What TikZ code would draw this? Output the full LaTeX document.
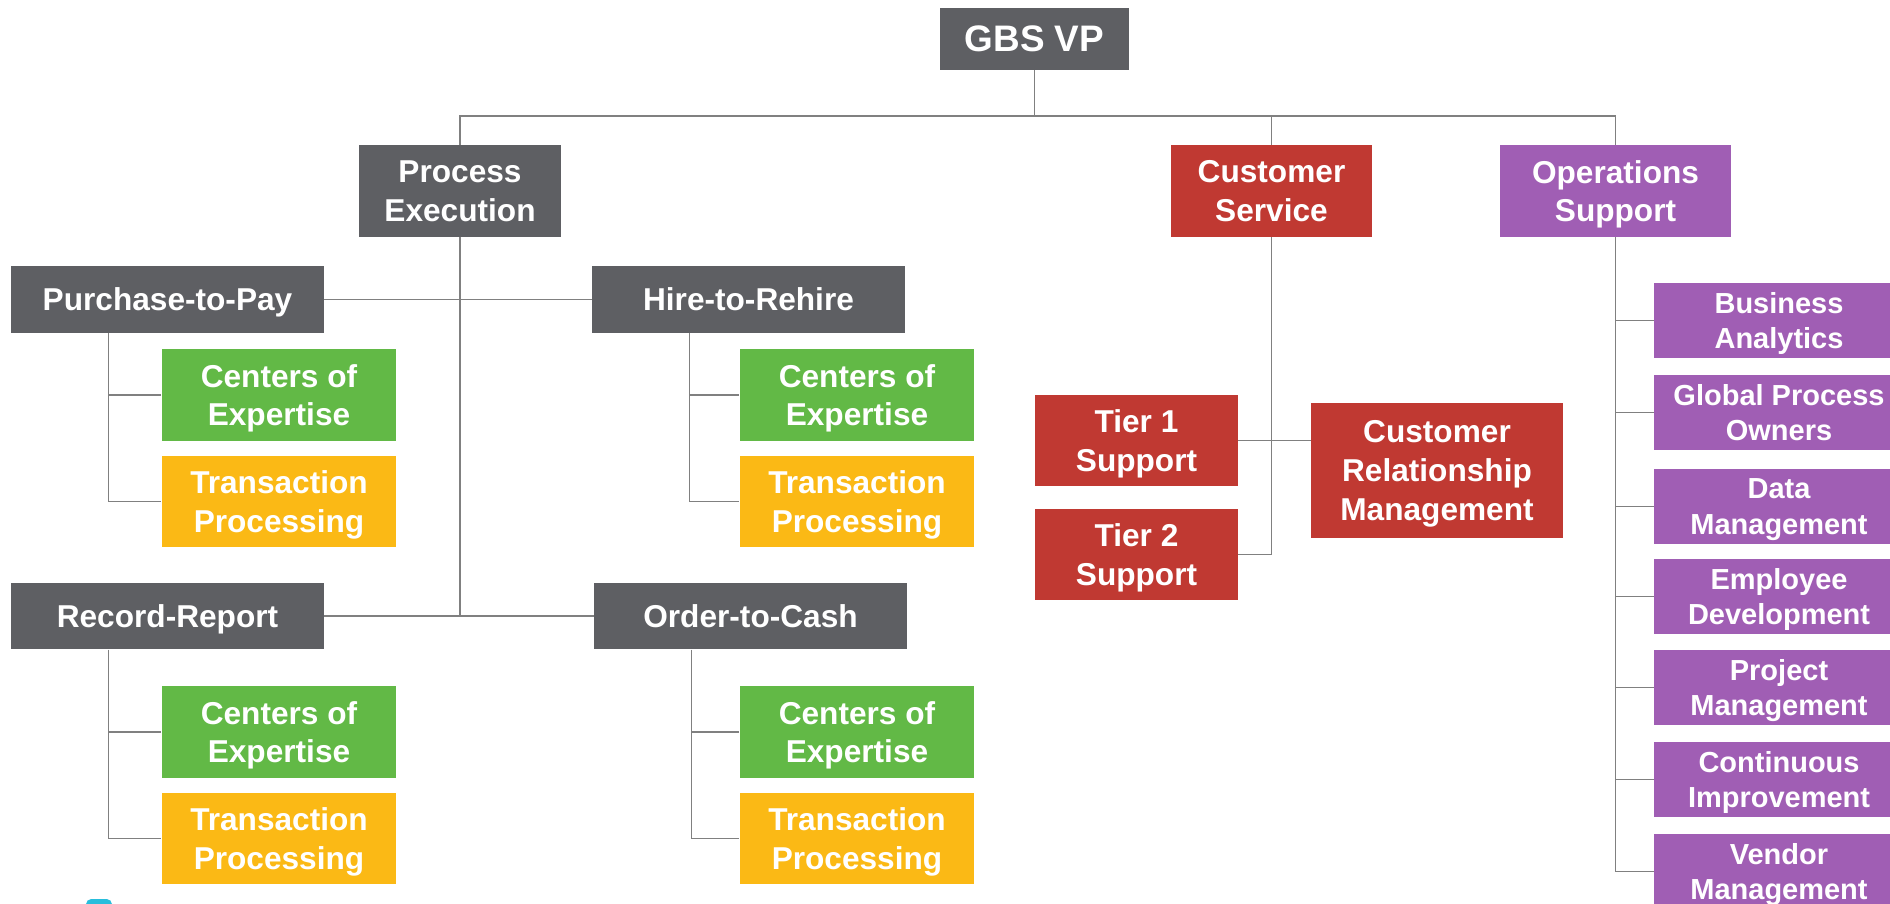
\documentclass[tikz,border=0pt]{standalone}
\usepackage{fontspec}
\setmainfont{Liberation Sans}
\usetikzlibrary{calc}
\definecolor{slate}{RGB}{94, 95, 99}
\definecolor{brick}{RGB}{192, 57, 50}
\definecolor{leaf}{RGB}{98, 185, 70}
\definecolor{amber}{RGB}{251, 185, 21}
\definecolor{orchid}{RGB}{160, 94, 180}
\definecolor{wire}{RGB}{128, 128, 128}
\definecolor{skyblue}{RGB}{40, 190, 220}

\tikzset{
    box/.style   = {rectangle, inner sep=0pt, text=white, align=center, text depth=0pt,
                    font=\bfseries\fontsize{18}{22}\selectfont},
    proc/.style  = {box, fill=slate,  minimum width=6.26cm, minimum height=1.33cm},
    coe/.style   = {box, fill=leaf,   minimum width=4.70cm, minimum height=1.84cm},
    trans/.style = {box, fill=amber,  minimum width=4.70cm, minimum height=1.83cm},
    tier/.style  = {box, fill=brick,  minimum width=4.06cm, minimum height=1.82cm},
    opsbox/.style= {box, fill=orchid, minimum width=5.00cm, minimum height=1.50cm,
                    font=\bfseries\fontsize{16.5}{20}\selectfont},
    link/.style  = {draw=wire, line width=0.9pt},
}

\begin{document}
\begin{tikzpicture}[x=0.02cm, y=-0.02cm]
            \useasboundingbox (0,0) rectangle (1890,903);
            % top
            \node[box, fill=slate, minimum width=3.78cm, minimum height=1.24cm,
                  font=\bfseries\fontsize{21}{25}\selectfont]            (vp)  at (1034.5,  39.0) {GBS VP};
            \node[box, fill=slate,  minimum width=4.04cm, minimum height=1.84cm] (pe)  at ( 460.0, 191.0) {Process\\Execution};
            \node[box, fill=brick,  minimum width=4.04cm, minimum height=1.84cm] (cs)  at (1271.5, 191.0) {Customer\\Service};
            \node[box, fill=orchid, minimum width=4.62cm, minimum height=1.84cm] (os)  at (1615.5, 191.0) {Operations\\Support};
            % process execution
            \node[proc]  (p2p)     at ( 167.5, 299.5) {Purchase-to-Pay};
            \node[proc]  (h2r)     at ( 748.5, 299.5) {Hire-to-Rehire};
            \node[proc]  (rr)      at ( 167.5, 616.0) {Record-Report};
            \node[proc]  (o2c)     at ( 750.5, 616.0) {Order-to-Cash};
            \node[coe]   (p2p-coe) at ( 279.0, 395.0) {Centers of\\Expertise};
            \node[trans] (p2p-tp)  at ( 279.0, 501.5) {Transaction\\Processing};
            \node[coe]   (h2r-coe) at ( 857.0, 395.0) {Centers of\\Expertise};
            \node[trans] (h2r-tp)  at ( 857.0, 501.5) {Transaction\\Processing};
            \node[coe]   (rr-coe)  at ( 279.0, 732.0) {Centers of\\Expertise};
            \node[trans] (rr-tp)   at ( 279.0, 838.5) {Transaction\\Processing};
            \node[coe]   (o2c-coe) at ( 857.0, 732.0) {Centers of\\Expertise};
            \node[trans] (o2c-tp)  at ( 857.0, 838.5) {Transaction\\Processing};
            % customer service
            \node[tier]  (t1)      at (1136.5, 440.5) {Tier 1\\Support};
            \node[tier]  (t2)      at (1136.5, 554.5) {Tier 2\\Support};
            \node[box, fill=brick, minimum width=5.04cm, minimum height=2.72cm]
                         (crm)     at (1437.0, 470.5) {Customer\\Relationship\\Management};

            % connectors
            \coordinate (bus) at (0,116);
            \draw[link] (vp.south) -- (vp.south |- bus);
            \draw[link] (pe.north) -- (pe.north |- bus) -- (os.north |- bus) -- (os.north);
            \draw[link] (cs.north) -- (cs.north |- bus);
            \draw[link] (pe.south) -- (pe.south |- rr.east);
            \draw[link] (p2p.east) -- (h2r.west);
            \draw[link] (rr.east)  -- (o2c.west);
            \foreach \g in {p2p, h2r, rr, o2c} {
                \draw[link] ($(\g.south west)+(98,0)$) coordinate (\g-spine) |- (\g-tp.west);
                \draw[link] (\g-coe.west) -- (\g-coe.west -| \g-spine);
            }
            \draw[link] (cs.south) |- (t2.east);
            \draw[link] (t1.east) -- (crm.west |- t1.east);

            % operations support
            \foreach \n/\y/\t in {ba/320.5/{Business\\Analytics}, gpo/412.5/{Global Process\\Owners},
                                  dm/506.5/{Data\\Management}, ed/596.5/{Employee\\Development},
                                  pm/687.5/{Project\\Management}, ci/779.5/{Continuous\\Improvement},
                                  vm/871.5/{Vendor\\Management}} {
                \node[opsbox] (\n) at (1779, \y) {\t};
                \draw[link] (\n.west) -- (\n.west -| os.south);
            }
            \draw[link] (os.south) -- (os.south |- vm.west);

            \fill[skyblue, rounded corners=3pt] (86,899) rectangle (112,914);
        \end{tikzpicture}
\end{document}
